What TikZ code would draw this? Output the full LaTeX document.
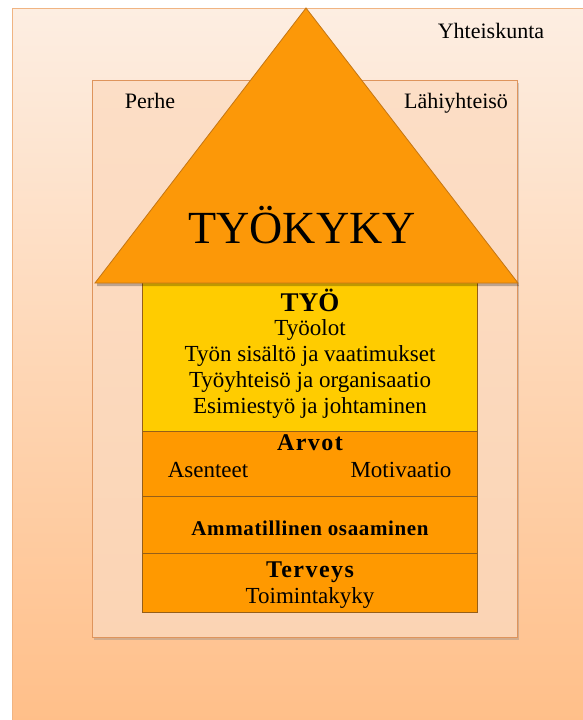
\documentclass[tikz,border=0pt]{standalone}
\usepackage{fontspec}
\setmainfont{LiberationSerif}[BoldFont=LiberationSerif-Bold]
\usetikzlibrary{shadows,calc}
\definecolor{outertop}{RGB}{253,238,226}
\definecolor{outerbot}{RGB}{255,190,135}
\definecolor{outerline}{RGB}{240,180,130}
\definecolor{midtop}{RGB}{252,222,198}
\definecolor{midbot}{RGB}{251,212,180}
\definecolor{midline}{RGB}{222,148,92}
\definecolor{roof}{RGB}{252,152,8}
\definecolor{roofline}{RGB}{196,118,20}
\definecolor{workfill}{RGB}{255,204,0}
\definecolor{layerfill}{RGB}{255,153,0}
\definecolor{layerline}{RGB}{150,95,25}
\tikzset{
  boxnode/.style={rectangle, anchor=north west, inner sep=0pt, outer sep=0pt},
  layer/.style={boxnode, draw=layerline, line width=0.8pt, minimum width=335pt},
  txt/.style={anchor=base, inner sep=0pt, text=black},
  bodytxt/.style={txt, font=\fontsize{23}{26}\selectfont},
  labeltxt/.style={txt, font=\fontsize{22}{25}\selectfont},
}
\begin{document}
\begin{tikzpicture}[x=1pt,y=-1pt]
\useasboundingbox (0,0) rectangle (582,720);
\fill[white] (0,0) rectangle (582,720);
% Yhteiskunta
\node[boxnode, draw=outerline, line width=1pt, top color=outertop, bottom color=outerbot,
      minimum width=590pt, minimum height=730pt] (society) at (12,8) {};
% Perhe / Lähiyhteisö box
\node[boxnode, draw=midline, line width=1pt, top color=midtop, bottom color=midbot,
      drop shadow={opacity=0.35, shadow xshift=2pt, shadow yshift=-3pt},
      minimum width=425pt, minimum height=557pt] (family) at (92,80) {};
% layers
\node[layer, fill=workfill, minimum height=149pt] (work) at (142,282) {};
\node[layer, fill=layerfill, minimum height=65pt] (values) at (142,431) {};
\node[layer, fill=layerfill, minimum height=57pt] (skills) at (142,496) {};
\node[layer, fill=layerfill, minimum height=59pt] (health) at (142,553) {};
% roof
\coordinate (roofL) at (95,283);
\coordinate (roofT) at (306,8);
\coordinate (roofR) at (518,283);
\fill[black, opacity=0.25] ($(roofL)+(2,3)$) -- ($(roofR)+(1,3)$) -- ($(roofR)+(0,0)$) -- ($(roofL)+(2,0)$) -- cycle;
\filldraw[fill=roof, draw=roofline, line width=0.8pt, line join=miter] (roofL) -- (roofT) -- (roofR) -- cycle;
% texts
\node[labeltxt] (tYht) at (491,38) {Yhteiskunta};
\node[labeltxt] (tPerhe) at (150,108) {Perhe};
\node[labeltxt] (tLahi) at (456,108) {Lähiyhteisö};
\node[txt, font=\fontsize{46}{50}\selectfont] (tKyky) at (302,243) {TYÖKYKY};
\node[txt, font=\fontsize{27}{30}\selectfont\bfseries] (tTyo) at (310,311) {TYÖ};
\node[bodytxt] (t1) at (310,335) {Työolot};
\node[bodytxt] (t2) at (310,361) {Työn sisältö ja vaatimukset};
\node[bodytxt] (t3) at (310,387) {Työyhteisö ja organisaatio};
\node[bodytxt] (t4) at (310,413) {Esimiestyö ja johtaminen};
\node[txt, font=\fontsize{24}{27}\selectfont\bfseries\addfontfeatures{LetterSpace=6}] (tArvot) at (310,450) {Arvot};
\node[bodytxt] (tAs) at (208,477) {Asenteet};
\node[bodytxt] (tMot) at (401,477) {Motivaatio};
\node[txt, font=\fontsize{21}{24}\selectfont\bfseries\addfontfeatures{LetterSpace=3}] (tAmm) at (310,535) {Ammatillinen osaaminen};
\node[txt, font=\fontsize{24}{27}\selectfont\bfseries\addfontfeatures{LetterSpace=6}] (tTerv) at (310,577) {Terveys};
\node[bodytxt] (tToim) at (310,603) {Toimintakyky};
\end{tikzpicture}
\end{document}
